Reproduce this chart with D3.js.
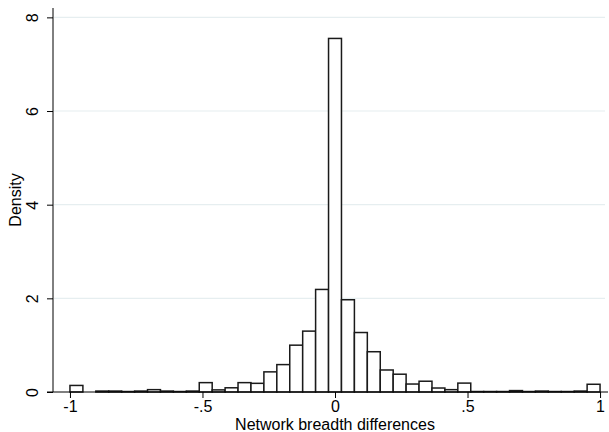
<!DOCTYPE html>
<html>
<head>
<meta charset="utf-8">
<script src="https://cdn.jsdelivr.net/npm/d3@7"></script>
<style>
  body { margin: 0; background: #fff; }
  svg { display: block; font-family: "Liberation Sans", Arial, sans-serif; }
</style>
</head>
<body>
<svg id="chart"></svg>
<script>
// histogram: 41 bins from -1 to 1, density per bin
const binStart = -1;
const binCount = 41;
const binWidth = 2 / binCount;
const density = [
  0.14, 0, 0.02, 0.02, 0.01, 0.02, 0.05, 0.02, 0.01, 0.02,
  0.20, 0.045, 0.09, 0.20, 0.185, 0.43, 0.585, 1.00, 1.30, 2.19,
  7.55, 1.97, 1.27, 0.86, 0.47, 0.38, 0.17, 0.23, 0.085, 0.05,
  0.19, 0.01, 0.01, 0.01, 0.03, 0.01, 0.02, 0.01, 0.01, 0.02,
  0.165
];
const xTicks = [-1, -0.5, 0, 0.5, 1];
const xTickLabels = ["-1", "-.5", "0", ".5", "1"];
const yTicks = [0, 2, 4, 6, 8];
const xTitle = "Network breadth differences";
const yTitle = "Density";

const width = 609, height = 432;
const plot = {left: 53, right: 608, top: 8, bottom: 392};

const svg = d3.select("#chart").attr("width", width).attr("height", height);

const x = d3.scaleLinear().domain([-1.064, 1.03]).range([plot.left, plot.right]);
const y = d3.scaleLinear().domain([0, 8.2]).range([plot.bottom, plot.top]);

// gridlines
svg.append("g")
  .selectAll("line")
  .data(yTicks.filter(d => d > 0))
  .join("line")
    .attr("x1", plot.left + 1)
    .attr("x2", plot.right - 3)
    .attr("y1", d => y(d))
    .attr("y2", d => y(d))
    .attr("stroke", "#e6eef0")
    .attr("stroke-width", 1.2);

// bars
const bins = density.map((v, i) => ({x0: binStart + i * binWidth, x1: binStart + (i + 1) * binWidth, v}));
svg.append("g")
  .selectAll("rect")
  .data(bins.filter(d => d.v > 0))
  .join("rect")
    .attr("x", d => x(d.x0))
    .attr("width", d => x(d.x1) - x(d.x0))
    .attr("y", d => y(d.v))
    .attr("height", d => y(0) - y(d.v))
    .attr("fill", "#fff")
    .attr("stroke", "#1a1a1a")
    .attr("stroke-width", 1.5);

// x axis
const xAxis = d3.axisBottom(x)
  .tickValues(xTicks)
  .tickFormat((d, i) => xTickLabels[i])
  .tickSize(6)
  .tickSizeOuter(0)
  .tickPadding(3);
const gx = svg.append("g")
  .attr("transform", `translate(0,${plot.bottom})`)
  .call(xAxis);
gx.select(".domain").remove();
gx.append("line")
  .attr("x1", plot.left - 6).attr("x2", plot.right)
  .attr("stroke", "#000").attr("stroke-width", 1);
gx.selectAll(".tick line").attr("stroke", "#000");
gx.selectAll(".tick text")
  .attr("fill", "#000")
  .style("font-size", "16px")
  .style("font-family", "Liberation Sans, Arial, sans-serif");

// y axis
const yAxis = d3.axisLeft(y)
  .tickValues(yTicks)
  .tickSize(6)
  .tickSizeOuter(0);
const gy = svg.append("g")
  .attr("transform", `translate(${plot.left},0)`)
  .call(yAxis);
gy.select(".domain").remove();
gy.append("line")
  .attr("y1", plot.top).attr("y2", plot.bottom)
  .attr("stroke", "#000").attr("stroke-width", 1);
gy.selectAll(".tick line").attr("stroke", "#000");
gy.selectAll(".tick text")
  .attr("fill", "#000")
  .attr("x", null).attr("dy", null)
  .attr("text-anchor", "middle")
  .attr("transform", "translate(-21,0) rotate(-90)")
  .attr("dy", "0.36em")
  .style("font-size", "16px")
  .style("font-family", "Liberation Sans, Arial, sans-serif");

// titles
svg.append("text")
  .attr("x", (x(-1) + x(1)) / 2)
  .attr("y", 430)
  .attr("text-anchor", "middle")
  .style("font-size", "16px")
  .text(xTitle);

svg.append("text")
  .attr("transform", `translate(21,${(plot.top + plot.bottom) / 2}) rotate(-90)`)
  .attr("text-anchor", "middle")
  .style("font-size", "16px")
  .text(yTitle);
</script>
</body>
</html>
